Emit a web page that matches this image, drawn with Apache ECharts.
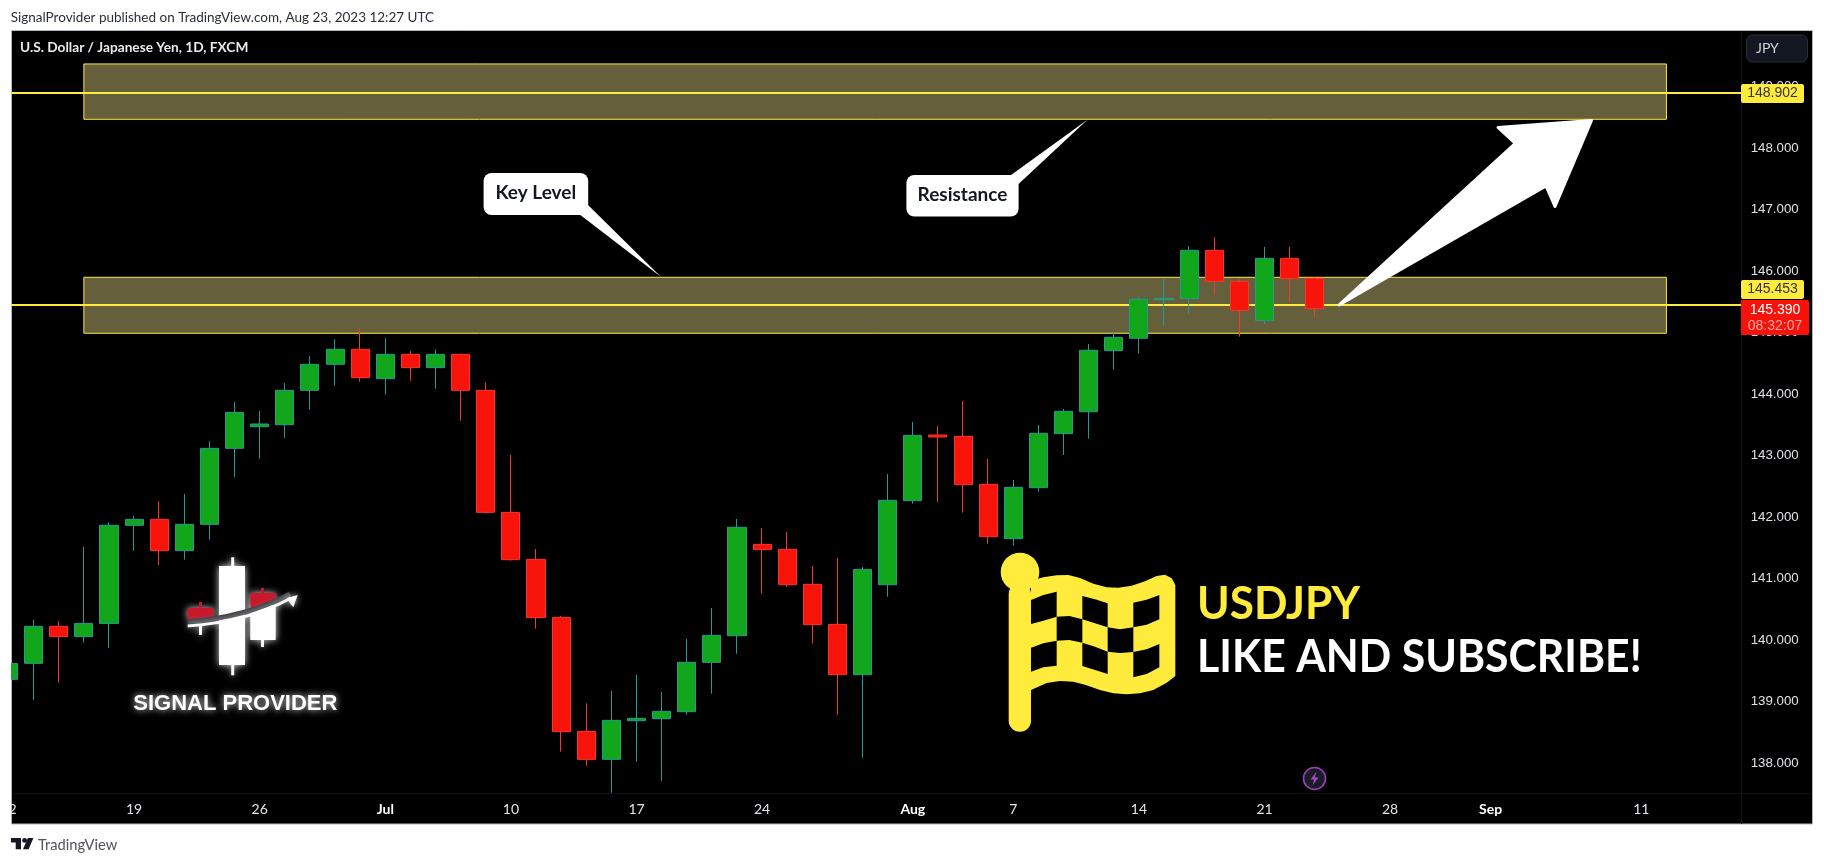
<!DOCTYPE html>
<html>
<head>
<meta charset="utf-8">
<style>html,body{margin:0;padding:0;background:#fff;overflow:hidden;width:1824px;height:864px}#c{position:absolute;left:-20px;top:0;width:1844px;height:864px}</style>
<script src="https://cdn.jsdelivr.net/npm/echarts@6/dist/echarts.min.js"></script>
</head>
<body>
<div id="c"></div>
<script>
const categories = [
 '06-12','06-13','06-14','06-15','06-16','06-19','06-20','06-21','06-22','06-23',
 '06-26','06-27','06-28','06-29','06-30','07-03','07-04','07-05','07-06','07-07',
 '07-10','07-11','07-12','07-13','07-14','07-17','07-18','07-19','07-20','07-21',
 '07-24','07-25','07-26','07-27','07-28','07-31','08-01','08-02','08-03','08-04',
 '08-07','08-08','08-09','08-10','08-11','08-14','08-15','08-16','08-17','08-18',
 '08-21','08-22','08-23','08-24','08-25','08-28','08-29','08-30','08-31','09-01',
 '09-04','09-05','09-06','09-07','09-08','09-11','09-12','09-13','09-14','09-15'];
const opens = [139.363,139.623,140.225,140.057,140.273,141.867,141.964,141.455,141.883,143.119,
 143.471,143.504,144.062,144.485,144.729,144.252,144.647,144.431,144.647,144.062,
 142.078,141.314,140.371,138.517,138.062,138.691,138.723,138.837,139.639,140.073,
 141.558,141.477,140.908,140.257,139.439,140.902,142.268,143.336,143.314,142.534,
 141.650,142.479,143.358,143.715,144.707,144.908,145.536,145.553,146.339,145.835,
 145.200,146.208,145.884];
const closes = [139.620,140.225,140.057,140.273,141.867,141.964,141.455,141.883,143.119,143.704,
 143.515,144.062,144.485,144.729,144.268,144.647,144.431,144.647,144.062,142.078,
 141.309,140.366,138.512,138.062,138.696,138.728,138.842,139.639,140.078,141.835,
 141.471,140.902,140.252,139.439,141.151,142.274,143.330,143.303,142.528,141.683,
 142.485,143.363,143.721,144.713,144.924,145.542,145.558,146.339,145.835,145.363,
 146.208,145.878,145.390];
const lows = [139.200,139.027,139.309,139.959,139.872,141.455,141.222,141.309,141.634,142.658,
 142.951,143.287,143.748,144.138,144.203,143.992,144.219,144.089,143.569,142.060,
 141.292,140.187,138.187,137.959,137.520,138.024,137.715,138.783,139.130,139.780,
 140.756,140.870,139.943,138.788,138.089,140.707,142.219,142.246,142.073,141.569,
 141.536,142.414,143.011,143.276,144.398,144.658,145.114,145.309,145.612,144.935,
 145.141,145.504,145.244];
const highs = [139.800,140.328,140.311,141.515,141.916,142.019,142.263,142.376,143.238,143.872,
 143.726,144.181,144.620,144.891,145.076,144.913,144.702,144.729,144.660,144.192,
 143.010,141.482,140.393,138.973,139.173,139.433,139.157,140.018,140.523,141.970,
 141.824,141.759,141.206,141.336,141.190,142.702,143.547,143.482,143.889,142.946,
 142.604,143.498,143.759,144.816,145.005,145.580,145.872,146.409,146.555,145.872,
 146.393,146.393,145.900];
const tickDates = ['06-12','06-19','06-26','07-03','07-10','07-17','07-24','08-01','08-07','08-14','08-21','08-28','09-01','09-11'];
const tickLabels = ['12','19','26','Jul','10','17','24','Aug','7','14','21','28','Sep','11'];
const priceTicks = [138,139,140,141,142,143,144,145,146,147,148,149];
const zoneUpper = [148.469,149.369];
const zoneLower = [144.990,145.900];
const levelUpper = 148.902;
const levelLower = 145.453;
const lastPrice = 145.390;
const zoneStart = '06-15';
const zoneEnd = '09-12';

const YEL='#FFEB3B', TREB='Lato,"Noto Sans",sans-serif', ARIAL='"Liberation Sans",Arial,sans-serif';
const labelOf = Object.fromEntries(tickDates.map((d,i)=>[d,tickLabels[i]]));
const months = new Set(['Jul','Aug','Sep']);

function T(x,y,text,fill,font,align,extra,sx){
  const el={type:'text',x,y,z:60,silent:true,style:Object.assign({text,fill,font,
    align:align||'left',verticalAlign:'middle',textAlign:align||'left',textVerticalAlign:'middle'},extra||{})};
  if(sx){el.scaleX=sx;}
  return el;
}
function R(x,y,w,h,fill,r,stroke,z){return {type:'rect',z:z==null?55:z,silent:true,shape:{x,y,width:w,height:h,r:r||0},style:{fill,stroke:stroke||null,lineWidth:stroke?1:0}};}
function P(points,fill,opts){return Object.assign({type:'polygon',z:56,silent:true,shape:{points},style:Object.assign({fill},(opts&&opts.style)||{})},opts&&opts.z?{z:opts.z}:{});}

const GLOW={shadowBlur:7,shadowColor:'rgba(255,255,255,0.85)'};
const fz=([x,y])=>[1000+x/3,550+y/3];
const flagBody=[[93,92],[130,82],[170,76],[205,75],[240,84],[280,101],[320,112],[355,113],[395,107],[435,94],[470,78],[495,74],[515,85],[526,105],[526,378],[500,398],[460,420],[420,430],[380,433],[340,430],[300,420],[255,404],[220,395],[180,393],[140,399],[93,420]].map(fz);
const flagCells=[
 [[93,150],[130,135],[170,125],[170,200],[130,212],[93,222]],
 [[247,138],[285,148],[323,160],[323,232],[285,220],[247,208]],
 [[400,158],[440,149],[478,135],[478,208],[440,224],[400,232]],
 [[170,200],[208,198],[247,208],[247,278],[208,270],[170,272]],
 [[323,232],[360,238],[400,232],[400,306],[360,309],[323,305]],
 [[93,293],[130,280],[170,272],[170,347],[130,352],[93,365]],
 [[247,278],[285,290],[323,305],[323,372],[285,360],[247,348]],
 [[400,306],[440,298],[478,282],[478,352],[440,372],[400,382]]].map(c=>c.map(fz));

const graphicEls=[
 {type:'rect',z:-10,silent:true,shape:{x:11.5,y:30.5,width:1801,height:793.5},style:{fill:'#000',stroke:'#b2b5be',lineWidth:1}},
 {type:'line',z:-5,silent:true,shape:{x1:12,y1:793.5,x2:1812,y2:793.5},style:{stroke:'#101216',lineWidth:1}},
 {type:'line',z:-5,silent:true,shape:{x1:1741.5,y1:31,x2:1741.5,y2:824},style:{stroke:'#101216',lineWidth:1}},
 R(-20,0,31,864,'#fff',0,null,70),
 T(10.7,17.5,'SignalProvider published on TradingView.com, Aug 23, 2023 12:27 UTC','#2a2e39','13.5px '+TREB),
 T(20,47.5,'U.S. Dollar / Japanese Yen, 1D, FXCM','#e8eaef','bold 13.7px '+TREB),
 T(38,845,'TradingView','#50535e','14.7px '+TREB),
 P([[10.7,838],[21,838],[21,849.3],[15.7,849.3],[15.7,842.6],[10.7,842.6]],'#131722'),
 {type:'circle',z:56,silent:true,shape:{cx:24.6,cy:840.4,r:2.4},style:{fill:'#131722'}},
 P([[27.8,838],[33.4,838],[28.6,849.3],[23,849.3]],'#131722'),
 R(1746.5,35,61,27,'#131722',6,'#2a2e39',55),
 T(1756,48.5,'JPY','#d1d4dc','14px '+TREB),
 R(1741,84,63,19,YEL,2),
 T(1772.5,93.5,levelUpper.toFixed(3),'#333','14px '+ARIAL,'center'),
 R(1741,280,63,19,YEL,2),
 T(1772.5,289.5,levelLower.toFixed(3),'#333','14px '+ARIAL,'center'),
 R(1741,300,68,35,'#F7130A',[0,2,2,0]),
 T(1775,310.5,lastPrice.toFixed(3),'#fff','14px '+ARIAL,'center'),
 T(1775,326,'08:32:07','#ffa8a3','14px '+ARIAL,'center'),
 P([[579,214],[588,205],[660.8,276.7]],'#fff'),
 R(483.6,173,104.6,42,'#fff',8),
 T(535.8,193,'Key Level','#131722','bold 19px '+TREB,'center'),
 P([[1009.7,176],[1018.6,184],[1087.4,119.8]],'#fff'),
 R(906.4,175,112.2,41.5,'#fff',8),
 T(962.5,194.5,'Resistance','#131722','bold 19px '+TREB,'center'),
 P([[1339,305],[1515.3,143.3],[1498,127.5],[1591.5,120.5],[1555,206.5],[1546,186]],'#fff',{style:{stroke:'#fff',lineWidth:3,lineJoin:'round'}}),
 Object.assign(R(219,566,26,99,'#fff',0,null,56),{style:{fill:'#fff',...GLOW}}),
 {type:'rect',z:56,silent:true,shape:{x:231.2,y:557.3,width:3,height:118},style:{fill:'#fff',...GLOW}},
 Object.assign(R(250.3,605,25.4,35,'#fff',0,null,56),{style:{fill:'#fff',...GLOW}}),
 {type:'rect',z:56,silent:true,shape:{x:261,y:636,width:3,height:11},style:{fill:'#fff',...GLOW}},
 {type:'rect',z:56,silent:true,shape:{x:199,y:624,width:3,height:11},style:{fill:'#fff',...GLOW}},
 P([[187.7,608],[213.3,608],[213.3,616.5],[187.7,620]],'#c8192a',{style:GLOW}),
 {type:'rect',z:56,silent:true,shape:{x:199,y:602,width:3,height:7},style:{fill:'#c8192a'}},
 P([[250.3,593],[275.7,593],[275.7,602],[250.3,610]],'#c8192a',{style:GLOW}),
 {type:'rect',z:56,silent:true,shape:{x:261,y:588,width:3,height:6},style:{fill:'#c8192a'}},
 {type:'bezierCurve',z:57,silent:true,shape:{x1:187.7,y1:621.5,x2:290,y2:594,cpx1:245,cpy1:618},style:{stroke:'#3b3b40',lineWidth:5,fill:null}},
 {type:'bezierCurve',z:58,silent:true,shape:{x1:187.7,y1:626,x2:291,y2:598,cpx1:248,cpy1:622},style:{stroke:'#fff',lineWidth:3,fill:null,...GLOW}},
 Object.assign(P([[286.7,598.3],[297.7,595],[293.3,607.3],[290,603]],'#fff',{style:GLOW}),{z:58}),
 T(235.3,704,'SIGNAL PROVIDER','#fff','bold 22px '+ARIAL,'center',{textShadowBlur:7,textShadowColor:'rgba(255,255,255,0.9)'}),
 {type:'rect',z:56,silent:true,shape:{x:1008.7,y:583,width:22.3,height:148.7,r:11},style:{fill:YEL}},
 {type:'circle',z:56,silent:true,shape:{cx:1020,cy:572,r:19.3},style:{fill:YEL}},
 P(flagBody,YEL),
 ...flagCells.map(c=>Object.assign(P(c,'#000'),{z:57})),
 T(1197,604,'USDJPY',YEL,'bold 45px '+TREB,'left',null,0.98),
 T(1197,657,'LIKE AND SUBSCRIBE!','#fff','bold 45px '+TREB,'left',null,0.95),
 {type:'circle',z:56,silent:true,shape:{cx:1314.5,cy:778.5,r:11},style:{fill:'#1a1c26',stroke:'#9c3fbf',lineWidth:1.6}},
 P([[1316.5,771.5],[1310.5,779.5],[1314.2,779.5],[1312.5,785.5],[1318.5,777.5],[1314.8,777.5]],'#a44bc8')
];

const chart = echarts.init(document.getElementById('c'));
chart.setOption({
  animation:false,
  backgroundColor:'#fff',
  grid:{left:15.94,top:30,width:1758.4,height:763,containLabel:false},
  xAxis:{type:'category',data:categories,boundaryGap:true,
    axisLine:{show:false},axisTick:{show:false},splitLine:{show:false},
    axisLabel:{margin:9,color:'#e3e5ea',fontFamily:TREB,fontSize:14,hideOverlap:false,
      interval:(i,v)=>v in labelOf,
      formatter:v=>{const l=labelOf[v]||'';return months.has(l)?'{b|'+l+'}':l;},
      rich:{b:{fontWeight:'bold',color:'#fff',fontFamily:TREB,fontSize:14}}}},
  yAxis:{type:'value',position:'right',offset:-12.7,min:137.515,max:149.921,scale:true,
    axisLine:{show:false},axisTick:{show:false},splitLine:{show:false},
    axisLabel:{margin:9,customValues:priceTicks,color:'#dfe1e6',fontFamily:ARIAL,fontSize:13.3,
      formatter:v=>v.toFixed(3),align:'left'}},
  graphic:{elements:[{type:'group',x:20,y:0,children:graphicEls}]},
  series:[
   {type:'line',z:1,data:[],silent:true,
    markArea:{silent:true,itemStyle:{color:'#655F3C',borderColor:YEL,borderWidth:1},
      data:[[{xAxis:zoneStart,yAxis:zoneUpper[1]},{xAxis:zoneEnd,yAxis:zoneUpper[0]}],
            [{xAxis:zoneStart,yAxis:zoneLower[1]},{xAxis:zoneEnd,yAxis:zoneLower[0]}]]},
    markLine:{silent:true,symbol:'none',label:{show:false},animation:false,
      lineStyle:{color:YEL,width:2,type:'solid'},
      data:[{yAxis:levelUpper},{yAxis:levelLower}]}},
   {type:'candlestick',z:5,barWidth:18.6,silent:true,
    itemStyle:{color:'#12A71B',color0:'#F8140A',borderColor:'#239B93',borderColor0:'#F4382E',borderWidth:1},
    data:opens.map((o,i)=>[o,closes[i],lows[i],highs[i]])}
  ]
});
</script>
</body>
</html>
